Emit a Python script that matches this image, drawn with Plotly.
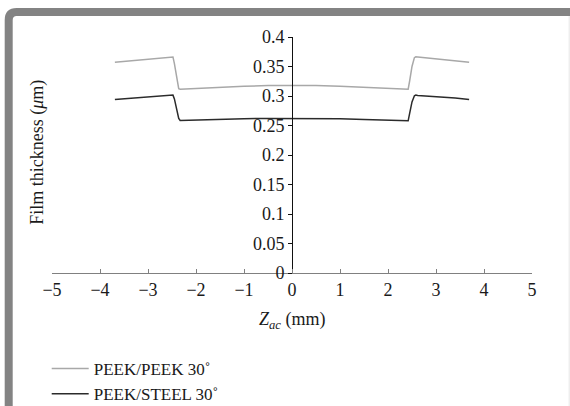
import plotly.graph_objects as go

# Axial coordinate along the contact (mm)
z_ac = [-3.69, -3.2, -2.8, -2.52, -2.48, -2.45, -2.40, -2.36, -2.33, -2.0, -1.5, -1.0, -0.5, 0.0,
        0.5, 1.0, 1.5, 2.0, 2.38, 2.42, 2.45, 2.50, 2.55, 2.58, 2.62, 3.0, 3.4, 3.69]

# Film thickness (µm) for each material pair
peek_peek = [0.357, 0.3608, 0.3639, 0.3658, 0.3662, 0.355, 0.330, 0.3125, 0.3115, 0.3130, 0.3150,
             0.3165, 0.3177, 0.3180, 0.3177, 0.3165, 0.3150, 0.3128, 0.3112, 0.3115, 0.325, 0.350,
             0.365, 0.3665, 0.3662, 0.3632, 0.3598, 0.357]
peek_steel = [0.294, 0.2968, 0.2992, 0.3012, 0.3015, 0.295, 0.278, 0.262, 0.2585, 0.2595, 0.2607,
              0.2615, 0.2620, 0.2622, 0.2620, 0.2614, 0.2603, 0.2590, 0.2575, 0.2580, 0.270, 0.290,
              0.3005, 0.3015, 0.3010, 0.2990, 0.2965, 0.294]

series_names = ["PEEK/PEEK 30˚", "PEEK/STEEL 30˚"]
x_ticks = [-5, -4, -3, -2, -1, 0, 1, 2, 3, 4, 5]
y_ticks = [0, 0.05, 0.1, 0.15, 0.2, 0.25, 0.3, 0.35, 0.4]

W, H = 570, 406
L, R, T, B = 52.3, 37.7, 37.0, 133.0
PW, PH = W - L - R, H - T - B


def px(x):
    return (x - L) / PW


def py(y):
    return (H - B - y) / PH


FONT = "Liberation Serif"
INK = "#1a1a1a"

fig = go.Figure()
fig.add_trace(go.Scatter(x=z_ac, y=peek_peek, mode="lines", name=series_names[0],
                         line=dict(color="#a8a8a8", width=1.5)))
fig.add_trace(go.Scatter(x=z_ac, y=peek_steel, mode="lines", name=series_names[1],
                         line=dict(color="#2b2b2b", width=1.5)))

fig.update_layout(
    width=W, height=H,
    margin=dict(l=L, r=R, t=T, b=B, autoexpand=False),
    paper_bgcolor="white", plot_bgcolor="white",
    font=dict(family=FONT, size=18, color=INK),
    showlegend=True,
    legend=dict(x=px(47), y=py(351), xanchor="left", yanchor="top",
                font=dict(family=FONT, size=17, color=INK),
                bgcolor="rgba(0,0,0,0)", tracegroupgap=0, itemwidth=37),
    xaxis=dict(range=[-5, 5], tickvals=x_ticks, showgrid=False, zeroline=False,
               showline=True, linecolor="#808080", linewidth=1,
               ticks="inside", ticklen=4, tickcolor="#808080",
               tickfont=dict(family=FONT, size=18, color=INK)),
    yaxis=dict(range=[0, 0.4], tickvals=y_ticks, showgrid=False, zeroline=False,
               showline=True, linecolor="#111111", linewidth=1,
               anchor="free", position=0.5,
               ticks="outside", ticklen=4, tickcolor="#111111",
               tickfont=dict(family=FONT, size=18, color=INK)),
)

# Axis titles
fig.add_annotation(x=px(37), y=py(152), xref="paper", yref="paper",
                   xanchor="center", yanchor="middle",
                   text="Film thickness (<i>μ</i>m)", textangle=-90, showarrow=False,
                   font=dict(family=FONT, size=18, color=INK))
fig.add_annotation(x=0, y=py(320), xref="x", yref="paper",
                   xanchor="center", yanchor="middle",
                   text="<i>Z<sub>ac</sub></i> (mm)", showarrow=False,
                   font=dict(family=FONT, size=18, color=INK))

# Grey frame with rounded top-left corner
fig.add_shape(type="path", xref="paper", yref="paper",
              path=(f"M {px(9)} {py(412)} L {px(9)} {py(20)} "
                    f"Q {px(9)} {py(12)} {px(17)} {py(12)} L {px(575)} {py(12)}"),
              line=dict(color="#838383", width=8), layer="above")
fig.add_shape(type="line", xref="paper", yref="paper",
              x0=px(569.5), x1=px(569.5), y0=py(16), y1=py(410),
              line=dict(color="#e6e6e6", width=1))

fig.write_html("out.html")
